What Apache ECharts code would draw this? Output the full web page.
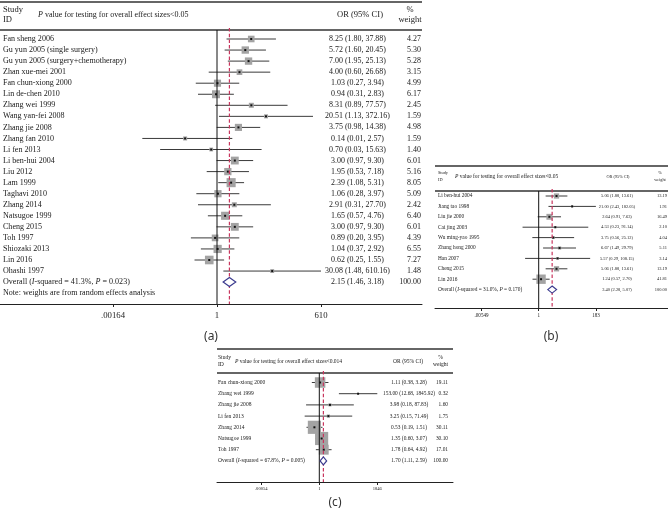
<!DOCTYPE html>
<html><head><meta charset="utf-8">
<script src="https://cdn.jsdelivr.net/npm/echarts@6/dist/echarts.min.js"></script>
<style>html,body{margin:0;padding:0;background:#fff}#c{width:668px;height:523px}</style>
</head><body><div id="c"></div>
<script>
// ---------- Panel (a) ----------
const studiesA = ['Fan sheng 2006','Gu yun 2005 (single surgery)','Gu yun 2005 (surgery+chemotherapy)','Zhan xue-mei 2001','Fan chun-xiong 2000','Lin de-chen 2010','Zhang wei 1999','Wang yan-fei 2008','Zhang jie 2008','Zhang fan 2010','Li fen 2013','Li ben-hui 2004','Liu 2012','Lam 1999','Taghavi 2010','Zhang 2014','Natsugoe 1999','Cheng 2015','Toh 1997','Shiozaki 2013','Lin 2016','Ohashi 1997'];
const orA = [8.25,5.72,7.00,4.00,1.03,0.94,8.31,20.51,3.75,0.14,0.70,3.00,1.95,2.39,1.06,2.91,1.65,3.00,0.89,1.04,0.62,30.08];
const loA = [1.80,1.60,1.95,0.60,0.27,0.31,0.89,1.13,0.98,0.01,0.03,0.97,0.53,1.08,0.28,0.31,0.57,0.97,0.20,0.37,0.25,1.48];
const hiA = [37.88,20.45,25.13,26.68,3.94,2.83,77.57,372.16,14.38,2.57,15.63,9.30,7.18,5.31,3.97,27.70,4.76,9.30,3.95,2.92,1.55,610.16];
const weightA = [4.27,5.30,5.28,3.15,4.99,6.17,2.45,1.59,4.98,1.59,1.40,6.01,5.16,8.05,5.09,2.42,6.40,6.01,4.39,6.55,7.27,1.48];
const overallA = [2.15,1.46,3.18,100.00];
const hetA = ['41.3%','0.023'];
const pThreshA = '0.05';
const tickValsA = [0.00164,1,610];
const tickLabsA = ['.00164','1','610'];

// ---------- Panel (b) ----------
const studiesB = ['Li ben-hui 2004','Jiang tao 1998','Liu jie 2000','Cai jing 2003','Wu ming-yao 1995','Zhang hong 2000','Han 2007','Cheng 2015','Lin 2016'];
const orB = [5.06,21.00,2.64,4.53,3.75,6.67,5.57,5.06,1.24];
const loB = [1.88,2.43,0.91,0.23,0.56,1.49,0.29,1.88,0.57];
const hiB = [13.61,182.05,7.63,91.14,25.12,29.79,108.15,13.61,2.70];
const weightB = [13.19,1.91,16.49,2.10,4.04,5.11,3.14,13.19,41.81];
const overallB = [3.40,2.28,5.07,100.00];
const hetB = ['31.0%','0.170'];
const pThreshB = '0.05';
const tickValsB = [0.00549,1,183];
const tickLabsB = ['.00549','1','183'];

// ---------- Panel (c) ----------
const studiesC = ['Fan chun-xiong 2000','Zhang wei 1999','Zhang jie 2008','Li fen 2013','Zhang 2014','Natsugoe 1999','Toh 1997'];
const orC = [1.11,153.00,3.98,3.25,0.53,1.35,1.78];
const loC = [0.38,12.68,0.18,0.15,0.19,0.60,0.64];
const hiC = [3.28,1845.92,87.83,71.49,1.51,3.07,4.92];
const weightC = [19.11,0.32,1.60,1.75,30.11,30.10,17.01];
const overallC = [1.70,1.11,2.59,100.00];
const hetC = ['67.8%','0.005'];
const pThreshC = '0.014';
const tickValsC = [0.00054,1,1846];
const tickLabsC = ['.00054','1','1846'];

const SERIF = '"Liberation Serif","DejaVu Serif",serif';
const TXT = '#1a1a1a';

// font sizing: fit sample strings to widths measured on the reference
const mctx = document.createElement('canvas').getContext('2d');
function fit(strs, target){ mctx.font = '10px '+SERIF; let w=0; strs.forEach(s=>{ w+=mctx.measureText(s).width; }); return 10*target/w; }

// layout (pixels) per panel
const panels = [
  {name:'(a)', studies:studiesA, or:orA, lo:loA, hi:hiA, w:weightA, ov:overallA, het:hetA, pth:pThreshA, tv:tickValsA, tl:tickLabsA, note:true,
   left:0, width:422, top:2, axisY:304, headerY:30, row0:39, step:11.05, oneX:217, ppd:37.34,
   lf:fit(['Gu yun 2005 (surgery+chemotherapy)','Note: weights are from random effects analysis'],276),
   cf:fit(['8.25 (1.80, 37.88)'],57), pf:fit(['P value for testing for overall effect sizes<0.05'],150),
   of:fit(['OR (95% CI)'],46), tf:fit(['.00164'],24),
   labelX:3, ciX:357.5, wX:421, boxK:3.2, dH:4.5, tmargin:7,
   studyY:[10,20], pX:38, pY:15, orHX:360, wHX:410, capX:211, capY:337},
  {name:'(b)', studies:studiesB, or:orB, lo:loB, hi:hiB, w:weightB, ov:overallB, het:hetB, pth:pThreshB, tv:tickValsB, tl:tickLabsB, note:false,
   left:435, width:233, top:166, axisY:308, headerY:191, row0:196, step:10.4, oneX:538.7, ppd:25.3,
   lf:fit(['Overall (I-squared = 31.0%, P = 0.170)'],84),
   cf:fit(['5.06 (1.88, 13.61)'],32), pf:fit(['P value for testing for overall effect sizes<0.05'],103),
   of:fit(['OR (95% CI)'],23), tf:fit(['.00549'],14),
   labelX:438, ciX:617, wX:667, boxK:1.45, dH:3.5, tmargin:5,
   studyY:[173,180], pX:455, pY:176.5, orHX:618, wHX:660, capX:551, capY:337},
  {name:'(c)', studies:studiesC, or:orC, lo:loC, hi:hiC, w:weightC, ov:overallC, het:hetC, pth:pThreshC, tv:tickValsC, tl:tickLabsC, note:false,
   left:217, width:236, top:349, axisY:482, headerY:373, row0:382.5, step:11.2, oneX:319.3, ppd:17.76,
   lf:fit(['Overall (I-squared = 67.8%, P = 0.005)','Fan chun-xiong 2000'],134),
   cf:fit(['153.00 (12.68, 1845.92)'],52), pf:fit(['P value for testing for overall effect sizes<0.014'],107),
   of:fit(['OR (95% CI)'],30), tf:fit(['.00054'],12.7),
   labelX:218, ciX:409, wX:448, boxK:2.4, dH:4, tmargin:4,
   studyY:[358,364.5], pX:235, pY:361.5, orHX:408, wHX:440.5, capX:335, capY:503}
];

const f2 = v => v.toFixed(2);
const ciText = (e,l,h) => f2(e)+' ('+f2(l)+', '+f2(h)+')';

function rowRender(p){
  return function(params, api){
    const i = api.value(1);
    const pe = api.coord([api.value(0), i]);
    const pl = api.coord([api.value(2), i]);
    const ph = api.coord([api.value(3), i]);
    const s = p.boxK*Math.sqrt(api.value(4));
    const y = pe[1];
    const idx = params.dataIndex;
    const lfont = p.lf.toFixed(2)+'px '+SERIF, cfont = p.cf.toFixed(2)+'px '+SERIF;
    return {type:'group', children:[
      {type:'line', shape:{x1:pl[0],y1:y,x2:ph[0],y2:y}, style:{stroke:'#3a3a3a',lineWidth:1}},
      {type:'rect', shape:{x:pe[0]-s/2,y:y-s/2,width:s,height:s}, style:{fill:'#a3a3a3'}},
      {type:'rect', shape:{x:pe[0]-1,y:y-1,width:2,height:2}, style:{fill:'#111'}},
      {type:'text', style:{x:p.labelX, y:y, text:p.studies[idx], font:lfont, fill:TXT, align:'left', verticalAlign:'middle'}},
      {type:'text', style:{x:p.ciX, y:y, text:ciText(p.or[idx],p.lo[idx],p.hi[idx]), font:cfont, fill:TXT, align:'center', verticalAlign:'middle'}},
      {type:'text', style:{x:p.wX, y:y, text:f2(p.w[idx]), font:cfont, fill:TXT, align:'right', verticalAlign:'middle'}}
    ]};
  };
}

function overallRender(p){
  return function(params, api){
    const i = api.value(1);
    const pe = api.coord([api.value(0), i]);
    const pl = api.coord([api.value(2), i]);
    const ph = api.coord([api.value(3), i]);
    const p1 = api.coord([1, i]);
    const y = pe[1];
    const lfont = p.lf.toFixed(2)+'px '+SERIF, cfont = p.cf.toFixed(2)+'px '+SERIF;
    const ifont = 'italic '+lfont;
    const kids = [
      {type:'line', z2:5, shape:{x1:p1[0],y1:p.headerY,x2:p1[0],y2:p.axisY}, style:{stroke:'#111',lineWidth:1}},
      {type:'line', z2:6, shape:{x1:pe[0],y1:p.headerY-2,x2:pe[0],y2:p.axisY}, style:{stroke:'#c8365e',lineWidth:1.2,lineDash:[3.5,2.2]}},
      {type:'polygon', z2:7, shape:{points:[[pl[0],y],[pe[0],y-p.dH],[ph[0],y],[pe[0],y+p.dH]]}, style:{fill:'#fff',stroke:'#3b3b8e',lineWidth:1.2}},
      {type:'text', style:{x:p.labelX, y:y, text:'{n|Overall (}{i|I}{n|-squared = '+p.het[0]+', }{i|P}{n| = '+p.het[1]+')}',
        rich:{n:{font:lfont,fill:TXT}, i:{font:ifont,fill:TXT}}, align:'left', verticalAlign:'middle'}},
      {type:'text', style:{x:p.ciX, y:y, text:ciText(p.ov[0],p.ov[1],p.ov[2]), font:cfont, fill:TXT, align:'center', verticalAlign:'middle'}},
      {type:'text', style:{x:p.wX, y:y, text:f2(p.ov[3]), font:cfont, fill:TXT, align:'right', verticalAlign:'middle'}}
    ];
    if (p.note){
      const yn = api.coord([1, i+1])[1];
      kids.push({type:'text', style:{x:p.labelX, y:yn, text:'Note: weights are from random effects analysis', font:lfont, fill:TXT, align:'left', verticalAlign:'middle'}});
    }
    return {type:'group', children:kids};
  };
}

const grid=[], xAxis=[], yAxis=[], series=[], graphic=[];
panels.forEach((p,k)=>{
  grid.push({left:p.left, top:p.top, width:p.width, height:p.axisY-p.top});
  const tv = p.tv, tl = p.tl;
  xAxis.push({type:'log', logBase:10, gridIndex:k,
    min: Math.pow(10, -(p.oneX-p.left)/p.ppd), max: Math.pow(10, (p.left+p.width-p.oneX)/p.ppd),
    axisLine:{show:true, onZero:false, lineStyle:{color:'#222', width:1}},
    axisTick:{show:true, customValues:tv, length:3, inside:false, lineStyle:{color:'#222'}},
    axisLabel:{show:true, customValues:tv, margin:p.tmargin, fontFamily:SERIF, fontSize:p.tf, color:TXT,
      formatter:function(v){ let b=0; tv.forEach((t,j)=>{ if(Math.abs(Math.log(t)-Math.log(v))<Math.abs(Math.log(tv[b])-Math.log(v))) b=j; }); return tl[b]; }},
    splitLine:{show:false}, minorTick:{show:false}
  });
  yAxis.push({type:'value', gridIndex:k, inverse:true, show:false,
    min:(p.top-p.row0)/p.step, max:(p.axisY-p.row0)/p.step, splitLine:{show:false}});
  series.push({type:'custom', xAxisIndex:k, yAxisIndex:k, clip:false, z:2, renderItem:rowRender(p),
    encode:{x:0,y:1}, data:p.studies.map((s,i)=>[p.or[i], i, p.lo[i], p.hi[i], p.w[i]])});
  series.push({type:'custom', xAxisIndex:k, yAxisIndex:k, clip:false, z:3, renderItem:overallRender(p),
    encode:{x:0,y:1}, data:[[p.ov[0], p.studies.length, p.ov[1], p.ov[2], p.ov[3]]]});
  // frame lines and headers
  graphic.push({type:'line', shape:{x1:p.left,y1:p.top,x2:p.left+p.width,y2:p.top}, style:{stroke:'#333',lineWidth:1.3}});
  graphic.push({type:'line', shape:{x1:p.left,y1:p.headerY,x2:p.left+p.width,y2:p.headerY}, style:{stroke:'#666',lineWidth:2}});
  const hf = p.of.toFixed(2)+'px '+SERIF, pfont = p.pf.toFixed(2)+'px '+SERIF;
  graphic.push({type:'text', style:{x:p.labelX, y:p.studyY[0], text:'Study', font:hf, fill:TXT, verticalAlign:'middle'}});
  graphic.push({type:'text', style:{x:p.labelX, y:p.studyY[1], text:'ID', font:hf, fill:TXT, verticalAlign:'middle'}});
  graphic.push({type:'text', style:{x:p.pX, y:p.pY, text:'{i|P}{n| value for testing for overall effect sizes<'+p.pth+'}',
    rich:{n:{font:pfont,fill:TXT}, i:{font:'italic '+pfont,fill:TXT}}, verticalAlign:'middle'}});
  graphic.push({type:'text', style:{x:p.orHX, y:p.pY, text:'OR (95% CI)', font:hf, fill:TXT, align:'center', verticalAlign:'middle'}});
  graphic.push({type:'text', style:{x:p.wHX, y:p.studyY[0], text:'%', font:hf, fill:TXT, align:'center', verticalAlign:'middle'}});
  graphic.push({type:'text', style:{x:p.wHX, y:p.studyY[1], text:'weight', font:hf, fill:TXT, align:'center', verticalAlign:'middle'}});
  graphic.push({type:'text', style:{x:p.capX, y:p.capY, text:p.name, font:'12px "Noto Sans","DejaVu Sans",sans-serif', fill:'#333', align:'center', verticalAlign:'middle'}});
});

const chart = echarts.init(document.getElementById('c'), null, {renderer:'canvas'});
chart.setOption({animation:false, backgroundColor:'#fff', grid, xAxis, yAxis, series, graphic});
</script></body></html>
